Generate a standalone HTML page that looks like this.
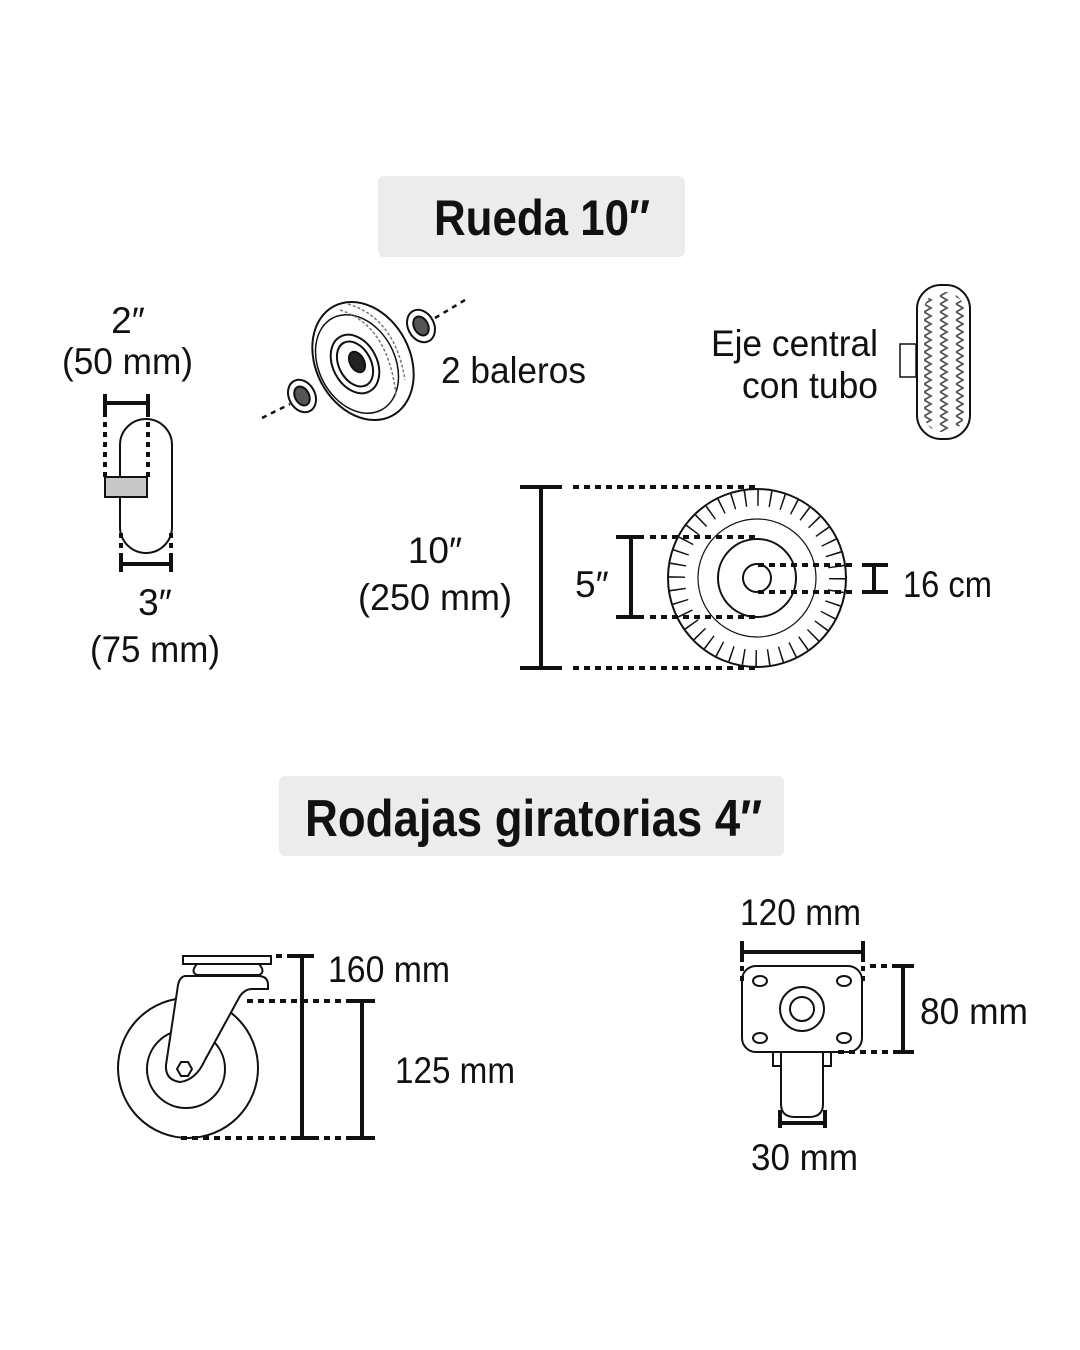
<!DOCTYPE html>
<html><head><meta charset="utf-8"><style>
html,body{margin:0;padding:0;background:#fff;}
svg{display:block;}
text{font-family:"Liberation Sans Narrow","Liberation Sans",sans-serif;fill:#111;}
</style></head><body>
<svg width="1080" height="1350" viewBox="0 0 1080 1350" xmlns="http://www.w3.org/2000/svg">
<defs>
<pattern id="zz" x="920" y="0" width="16" height="8" patternUnits="userSpaceOnUse">
<polyline points="4,0 11,4 4,8" fill="none" stroke="#555" stroke-width="1.8"/>
</pattern>
<clipPath id="tc"><rect x="924" y="292" width="40" height="140" rx="18"/></clipPath>
</defs>

<!-- Titles -->
<rect x="378" y="176" width="307" height="81" rx="6" fill="#ececec"/>
<text x="434" y="235" font-size="50" font-weight="bold" textLength="216" lengthAdjust="spacingAndGlyphs">Rueda 10″</text>
<rect x="279" y="776" width="505" height="80" rx="6" fill="#ececec"/>
<text x="305" y="836" font-size="52" font-weight="bold" textLength="457" lengthAdjust="spacingAndGlyphs">Rodajas giratorias 4″</text>

<!-- Labels -->
<g font-size="37">
<text x="128" y="333" text-anchor="middle">2″</text>
<text x="62" y="374" textLength="131" lengthAdjust="spacingAndGlyphs">(50 mm)</text>
<text x="441" y="383" textLength="145" lengthAdjust="spacingAndGlyphs">2 baleros</text>
<text x="711" y="356" textLength="167" lengthAdjust="spacingAndGlyphs">Eje central</text>
<text x="742" y="398" textLength="136" lengthAdjust="spacingAndGlyphs">con tubo</text>
<text x="435" y="563" text-anchor="middle">10″</text>
<text x="358" y="610" textLength="154" lengthAdjust="spacingAndGlyphs">(250 mm)</text>
<text x="575" y="597">5″</text>
<text x="903" y="597" textLength="89" lengthAdjust="spacingAndGlyphs">16 cm</text>
<text x="155" y="615" text-anchor="middle">3″</text>
<text x="90" y="662" textLength="130" lengthAdjust="spacingAndGlyphs">(75 mm)</text>
<text x="328" y="982" textLength="122" lengthAdjust="spacingAndGlyphs">160 mm</text>
<text x="395" y="1083" textLength="120" lengthAdjust="spacingAndGlyphs">125 mm</text>
<text x="740" y="925" textLength="121" lengthAdjust="spacingAndGlyphs">120 mm</text>
<text x="920" y="1024" textLength="108" lengthAdjust="spacingAndGlyphs">80 mm</text>
<text x="751" y="1170" textLength="107" lengthAdjust="spacingAndGlyphs">30 mm</text>
</g>

<!-- Side view small tire (2"/3") -->
<g stroke="#111" fill="none">
<path d="M120 445 A26 26 0 0 1 172 445 L172 527 A26 26 0 0 1 120 527 Z" stroke-width="2"/>
<rect x="105" y="477" width="42" height="20" fill="#c8c8c8" stroke-width="2"/>
<line x1="105" y1="403" x2="148" y2="403" stroke-width="4"/>
<line x1="105" y1="394" x2="105" y2="412" stroke-width="4"/>
<line x1="148" y1="394" x2="148" y2="412" stroke-width="4"/>
<line x1="105" y1="412" x2="105" y2="477" stroke-width="4" stroke-dasharray="5 5"/>
<line x1="148" y1="412" x2="148" y2="477" stroke-width="4" stroke-dasharray="5 5"/>
<line x1="121" y1="533" x2="121" y2="570" stroke-width="4" stroke-dasharray="5 5"/>
<line x1="171" y1="533" x2="171" y2="570" stroke-width="4" stroke-dasharray="5 5"/>
<line x1="121" y1="564" x2="171" y2="564" stroke-width="4"/>
<line x1="121" y1="556" x2="121" y2="572" stroke-width="4"/>
<line x1="171" y1="556" x2="171" y2="572" stroke-width="4"/>
</g>

<!-- Exploded wheel -->
<g stroke="#111" fill="none" stroke-width="2">
<line x1="262" y1="418" x2="290" y2="404" stroke-width="2.5" stroke-dasharray="5 5"/>
<line x1="435" y1="318" x2="465" y2="300" stroke-width="2.5" stroke-dasharray="5 5"/>
<ellipse cx="363" cy="361" rx="47" ry="62" transform="rotate(-28 363 361)" fill="#fff"/>
<ellipse cx="357" cy="364" rx="38" ry="52" transform="rotate(-28 357 364)" stroke-width="1.5"/>
<ellipse cx="355" cy="364" rx="22" ry="31" transform="rotate(-28 355 364)"/>
<ellipse cx="355" cy="364" rx="16" ry="24" transform="rotate(-28 355 364)"/>
<ellipse cx="357" cy="362" rx="7" ry="11" transform="rotate(-28 357 362)" fill="#222"/>
<path d="M348 304 Q395 318 405 380" stroke="#777" stroke-width="1.5" stroke-dasharray="3 2"/>
<path d="M340 310 Q388 325 396 395" stroke="#777" stroke-width="1.5" stroke-dasharray="3 2"/>
<ellipse cx="302" cy="396" rx="13" ry="17" transform="rotate(-28 302 396)" fill="#fff"/>
<ellipse cx="302" cy="396" rx="7" ry="10" transform="rotate(-28 302 396)" fill="#555"/>
<ellipse cx="421" cy="326" rx="13" ry="17" transform="rotate(-28 421 326)" fill="#fff"/>
<ellipse cx="421" cy="326" rx="7" ry="10" transform="rotate(-28 421 326)" fill="#555"/>
</g>

<!-- Side tire top-right -->
<rect x="900" y="344" width="16" height="33" fill="#fff" stroke="#111" stroke-width="1.5"/>
<rect x="924" y="292" width="40" height="140" fill="url(#zz)" clip-path="url(#tc)"/>
<rect x="917" y="285" width="53" height="154" rx="24" fill="none" stroke="#111" stroke-width="2"/>

<!-- Big wheel -->
<g stroke="#111" fill="none">
<circle cx="757" cy="578" r="89" stroke-width="2"/>
<circle cx="757" cy="578" r="80" stroke-width="16" stroke-dasharray="1.5 11.07"/>
<circle cx="757" cy="578" r="59" stroke-width="1.2"/>
<circle cx="757" cy="578" r="39" stroke-width="2"/>
<circle cx="757" cy="578" r="14" stroke-width="2"/>
<g stroke-width="4" stroke-dasharray="6 5">
<line x1="573" y1="487" x2="757" y2="487"/>
<line x1="573" y1="668" x2="757" y2="668"/>
<line x1="650" y1="537" x2="757" y2="537"/>
<line x1="650" y1="617" x2="757" y2="617"/>
<line x1="758" y1="565" x2="855" y2="565"/>
<line x1="758" y1="592" x2="855" y2="592"/>
</g>
<g stroke-width="4">
<line x1="541" y1="487" x2="541" y2="668"/>
<line x1="520" y1="487" x2="562" y2="487"/>
<line x1="520" y1="668" x2="562" y2="668"/>
<line x1="631" y1="537" x2="631" y2="617"/>
<line x1="616" y1="537" x2="644" y2="537"/>
<line x1="616" y1="617" x2="644" y2="617"/>
<line x1="874" y1="565" x2="874" y2="592"/>
<line x1="862" y1="565" x2="888" y2="565"/>
<line x1="862" y1="592" x2="888" y2="592"/>
</g>
</g>

<!-- Caster side -->
<g stroke="#111" fill="none" stroke-width="2">
<circle cx="188" cy="1068" r="70" fill="#fff"/>
<circle cx="186" cy="1069" r="39"/>
<rect x="183" y="956" width="88" height="8" fill="#fff"/>
<path d="M197 964 Q190 972 197 975 L259 975 Q266 972 259 964"/>
<path d="M186 976 L258 976 Q268 976 268 985 L268 989 L252 989 Q245 989 240 996 L205 1060 Q196 1080 180 1082 Q165 1080 166 1065 L178 985 Q180 976 186 976 Z" fill="#fff"/>
<polygon points="181,1062 188,1062 192,1069 188,1076 181,1076 177,1069"/>
<g stroke-width="4" stroke-dasharray="6 5">
<line x1="276" y1="956" x2="300" y2="956"/>
<line x1="247" y1="1001" x2="372" y2="1001"/>
<line x1="181" y1="1138" x2="372" y2="1138"/>
</g>
<g stroke-width="4">
<line x1="302" y1="956" x2="302" y2="1138"/>
<line x1="292" y1="956" x2="314" y2="956"/>
<line x1="292" y1="1138" x2="314" y2="1138"/>
<line x1="362" y1="1001" x2="362" y2="1138"/>
<line x1="350" y1="1001" x2="375" y2="1001"/>
<line x1="350" y1="1138" x2="375" y2="1138"/>
</g>
</g>

<!-- Caster top -->
<g stroke="#111" fill="none" stroke-width="2">
<rect x="773" y="1052" width="8" height="14"/>
<rect x="823" y="1052" width="8" height="14"/>
<path d="M781 1052 L781 1104 Q781 1117 795 1117 L809 1117 Q823 1117 823 1104 L823 1052" fill="#fff"/>
<rect x="742" y="966" width="120" height="86" rx="14" fill="#fff"/>
<circle cx="802" cy="1009" r="22"/>
<circle cx="802" cy="1009" r="12"/>
<ellipse cx="760" cy="981" rx="7" ry="5"/>
<ellipse cx="844" cy="981" rx="7" ry="5"/>
<ellipse cx="760" cy="1038" rx="7" ry="5"/>
<ellipse cx="844" cy="1038" rx="7" ry="5"/>
<g stroke-width="4">
<line x1="742" y1="952" x2="863" y2="952"/>
<line x1="742" y1="941" x2="742" y2="962"/>
<line x1="863" y1="941" x2="863" y2="962"/>
<line x1="742" y1="966" x2="742" y2="983" stroke-dasharray="5 5"/>
<line x1="863" y1="966" x2="863" y2="983" stroke-dasharray="5 5"/>
<line x1="870" y1="966" x2="893" y2="966" stroke-dasharray="6 5"/>
<line x1="838" y1="1052" x2="893" y2="1052" stroke-dasharray="6 5"/>
<line x1="903" y1="966" x2="903" y2="1052"/>
<line x1="893" y1="966" x2="914" y2="966"/>
<line x1="893" y1="1052" x2="914" y2="1052"/>
<line x1="780" y1="1123" x2="825" y2="1123"/>
<line x1="780" y1="1110" x2="780" y2="1128"/>
<line x1="825" y1="1110" x2="825" y2="1128"/>
</g>
</g>
</svg>
</body></html>
